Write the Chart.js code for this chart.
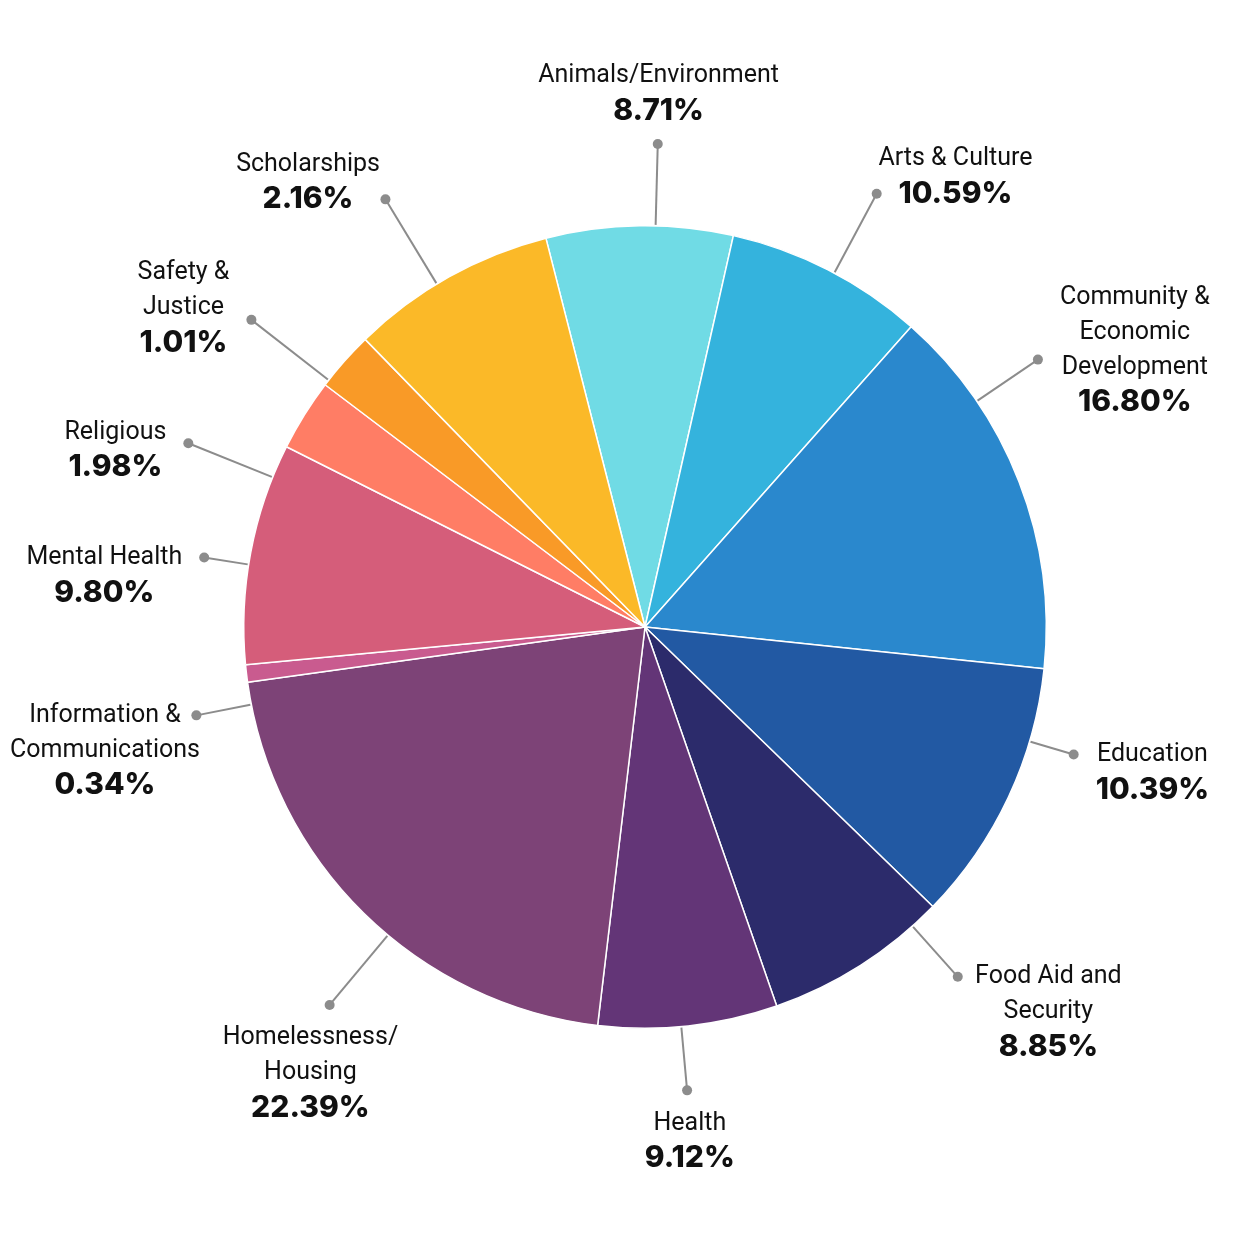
<!DOCTYPE html>
<html>
<head>
<meta charset="utf-8">
<script src="https://cdn.jsdelivr.net/npm/chart.js@4.4.1/dist/chart.umd.min.js"></script>
<style>
  html, body { margin: 0; padding: 0; background: #ffffff; }
  #wrap { width: 1254px; height: 1254px; }
</style>
</head>
<body>
<div id="wrap"><canvas id="pieChart" width="1254" height="1254"></canvas></div>
<script>
// categories, clockwise from the top
const categories = [
    ['Animals/Environment'],
    ['Arts & Culture'],
    ['Community &', 'Economic', 'Development'],
    ['Education'],
    ['Food Aid and', 'Security'],
    ['Health'],
    ['Homelessness/', 'Housing'],
    ['Information &', 'Communications'],
    ['Mental Health'],
    ['Religious'],
    ['Safety &', 'Justice'],
    ['Scholarships']
];
// share of the circle each slice takes in the picture
const sliceShare = [7.5, 8.0, 15.1, 10.6, 7.4, 7.2, 20.9, 0.7, 8.9, 2.9, 2.4, 8.3];
// percentages printed next to the slices
const shareLabels = ['8.71%', '10.59%', '16.80%', '10.39%', '8.85%', '9.12%',
    '22.39%', '0.34%', '9.80%', '1.98%', '1.01%', '2.16%'];

const sliceColors = ['#70dbe5', '#34b3dd', '#2a88cd', '#2259a3', '#2c2b6b', '#633577',
    '#7d4377', '#c95b8f', '#d55d7a', '#ff7d65', '#f99a27', '#fbb928'];

// callout layout: which side of the dot the text goes, angle nudge (deg), leader length (px)
const labelSide = ['top', 'right', 'right', 'right', 'right', 'bottom',
    'bottom', 'left', 'left', 'left', 'left', 'left'];
const leaderNudge = [2.3, 1, -13, -8.5, -9.3, 1, -4.6, -4.5, -1.7, -10, -3.5, -2];
const leaderLength = [82, 90, 74, 46, 68, 64, 91, 56, 45, 91, 98, 99];

const nameFont = '25px Roboto';
const pctFont = '800 30px Inter';
const lineGap = 35;

const calloutPlugin = {
    id: 'callouts',
    afterDatasetsDraw(chart) {
        const ctx = chart.ctx;
        const arcs = chart.getDatasetMeta(0).data;
        const W = chart.width;
        ctx.save();
        arcs.forEach((arc, i) => {
            const p = arc.getProps(['x', 'y', 'startAngle', 'endAngle', 'outerRadius'], true);
            const mid = (p.startAngle + p.endAngle) / 2 + leaderNudge[i] * Math.PI / 180;
            const ux = Math.cos(mid), uy = Math.sin(mid);
            const r0 = p.outerRadius + 1;
            const r1 = p.outerRadius + leaderLength[i];
            const dx = p.x + ux * r1, dy = p.y + uy * r1;

            ctx.strokeStyle = '#8c8c8c';
            ctx.lineWidth = 2;
            ctx.beginPath();
            ctx.moveTo(p.x + ux * r0, p.y + uy * r0);
            ctx.lineTo(dx, dy);
            ctx.stroke();
            ctx.fillStyle = '#8c8c8c';
            ctx.beginPath();
            ctx.arc(dx, dy, 5, 0, Math.PI * 2);
            ctx.fill();

            const lines = categories[i].map(t => ({ text: t, font: nameFont }));
            lines.push({ text: shareLabels[i], font: pctFont });
            let maxW = 0;
            lines.forEach(l => { ctx.font = l.font; maxW = Math.max(maxW, ctx.measureText(l.text).width); });
            const span = (lines.length - 1) * lineGap;

            let cx, firstY;
            const side = labelSide[i];
            if (side === 'top') {
                cx = dx + ux * 30;
                firstY = dy - 33 - span;
            } else if (side === 'bottom') {
                cx = dx + ux * 30;
                firstY = dy + 33;
            } else {
                const s = Math.max(-1, Math.min(1, (uy + 0.5) * 3));
                const centerY = dy + s * span / 2;
                firstY = centerY - span / 2;
                const gap = Math.max(0, Math.min(22, (Math.abs(ux) - 0.45) * 80));
                cx = side === 'right' ? dx + gap + maxW / 2 : dx - gap - maxW / 2;
            }
            // keep the block on the canvas
            cx = Math.max(cx, 10 + maxW / 2);
            cx = Math.min(cx, W - 10 - maxW / 2);

            ctx.textAlign = 'center';
            ctx.textBaseline = 'middle';
            ctx.fillStyle = '#111111';
            lines.forEach((l, k) => {
                ctx.font = l.font;
                ctx.fillText(l.text, cx, firstY + k * lineGap);
            });
        });
        ctx.restore();
    }
};

new Chart(document.getElementById('pieChart'), {
    type: 'pie',
    data: {
        labels: categories,
        datasets: [{
            data: sliceShare,
            backgroundColor: sliceColors,
            borderColor: '#ffffff',
            borderWidth: 1.5
        }]
    },
    options: {
        responsive: false,
        animation: false,
        rotation: -14.3,
        layout: { padding: { left: 243, right: 207, top: 225, bottom: 225 } },
        plugins: {
            legend: { display: false },
            tooltip: { enabled: false }
        }
    },
    plugins: [calloutPlugin]
});
</script>
</body>
</html>
